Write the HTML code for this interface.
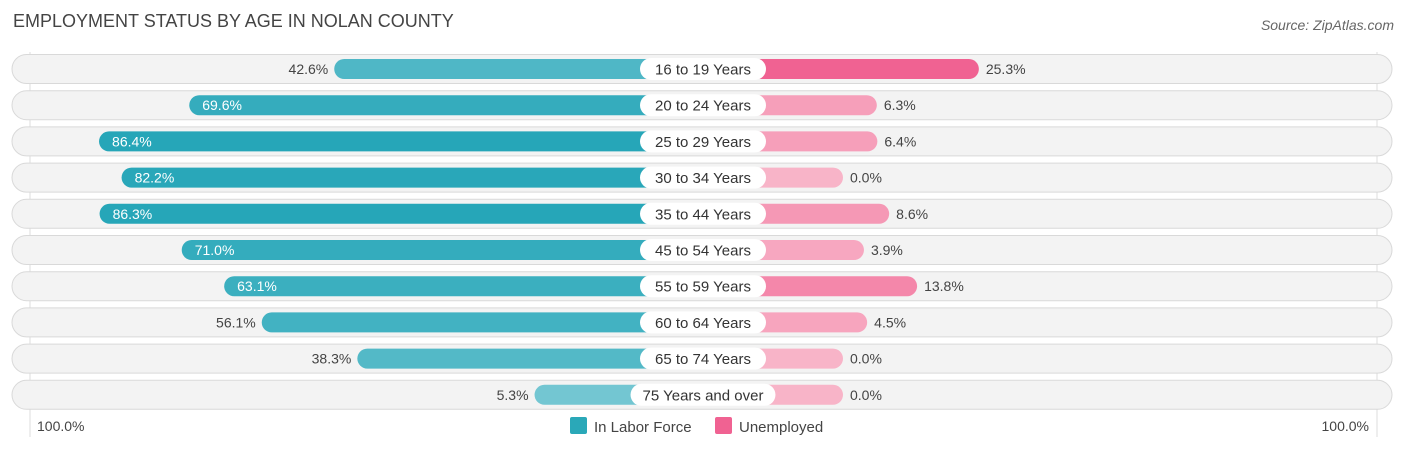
<!DOCTYPE html>
<html><head><meta charset="utf-8"><style>
body{margin:0;width:1406px;height:451px;background:#fff;font-family:"Liberation Sans",sans-serif;overflow:hidden;position:relative}
.t{position:absolute;white-space:nowrap}
</style></head><body>
<div class="t" style="left:13px;top:11px;font-size:18px;color:#444">EMPLOYMENT STATUS BY AGE IN NOLAN COUNTY</div>
<div class="t" style="right:12px;top:17px;font-size:14px;color:#666;font-style:italic">Source: ZipAtlas.com</div>
<svg id="c" width="1406" height="451" style="position:absolute;left:0;top:0;font-family:'Liberation Sans',sans-serif"></svg>
<script>
const categories=["16 to 19 Years","20 to 24 Years","25 to 29 Years","30 to 34 Years","35 to 44 Years","45 to 54 Years","55 to 59 Years","60 to 64 Years","65 to 74 Years","75 Years and over"];
const laborForce=[42.6,69.6,86.4,82.2,86.3,71.0,63.1,56.1,38.3,5.3];
const unemployed=[25.3,6.3,6.4,0.0,8.6,3.9,13.8,4.5,0.0,0.0];
const axisLabels=["100.0%","100.0%"];
const svg=document.getElementById('c');const NS="http://www.w3.org/2000/svg";
const cx=703,base=140,scale=5.37,y0=69,step=36.2;
function xs(v){return base+v*scale;}
function mk(t,a,p){const e=document.createElementNS(NS,t);for(const k in a)e.setAttribute(k,a[k]);(p||svg).appendChild(e);return e;}
function mix(a,b,t){return a.map((v,i)=>Math.round(v+(b[i]-v)*t));}
mk('line',{x1:30,y1:52,x2:30,y2:437,stroke:'#ddd'});
mk('line',{x1:1377,y1:52,x2:1377,y2:437,stroke:'#ddd'});
categories.forEach((c,i)=>{
 const y=y0+i*step;
 const bg=mk('rect',{x:12,y:y-14.5,width:1380,height:29,rx:14.5,fill:'#f3f3f3',stroke:'#d9d9d9'});
 
 const lv=laborForce[i],w=xs(lv);
 const lc=mix([120,200,212],[38,166,184],Math.min(lv/85,1));
 const lb=mk('rect',{x:cx-w,y:y-10,width:w,height:20,rx:10,fill:`rgb(${lc})`});
 
 const uv=unemployed[i],uw=xs(uv);
 const uc=mix([248,180,200],[240,98,146],Math.min(uv/25,1));
 const ub=mk('rect',{x:cx,y:y-10,width:uw,height:20,rx:10,fill:`rgb(${uc})`});
 
 const lab=mk('rect',{x:cx-63,y:y-11,width:126,height:22,rx:11,fill:'#fff'});
 
 const ct=mk('text',{x:cx,y:y+5.5,'text-anchor':'middle','font-size':15,fill:'#333'});ct.textContent=c;
 
 const tw=ct.getComputedTextLength()+24;
 if(tw>126){lab.setAttribute('x',cx-tw/2);lab.setAttribute('width',tw);}
 let lt;
 if(lv>60){lt=mk('text',{x:cx-w+13,y:y+5,'font-size':14,fill:'#fff'});}
 else{lt=mk('text',{x:cx-w-6,y:y+5,'font-size':14,fill:'#444','text-anchor':'end'});}
 lt.textContent=lv.toFixed(1)+'%';
 const ut=mk('text',{x:cx+uw+7,y:y+5,'font-size':14,fill:'#444'});ut.textContent=uv.toFixed(1)+'%';
 
});
const a1=mk('text',{x:37,y:431,'font-size':14,fill:'#444'});a1.textContent=axisLabels[0];

const a2=mk('text',{x:1369,y:431,'font-size':14,fill:'#444','text-anchor':'end'});a2.textContent=axisLabels[1];

const g1=mk('rect',{x:570,y:417,width:17,height:17,rx:2,fill:'#2aa8b8'});
const l1=mk('text',{x:594,y:432,'font-size':15,fill:'#444'});l1.textContent='In Labor Force';
const g2=mk('rect',{x:715,y:417,width:17,height:17,rx:2,fill:'#f06292'});
const l2=mk('text',{x:739,y:432,'font-size':15,fill:'#444'});l2.textContent='Unemployed';
</script>
</body></html>
